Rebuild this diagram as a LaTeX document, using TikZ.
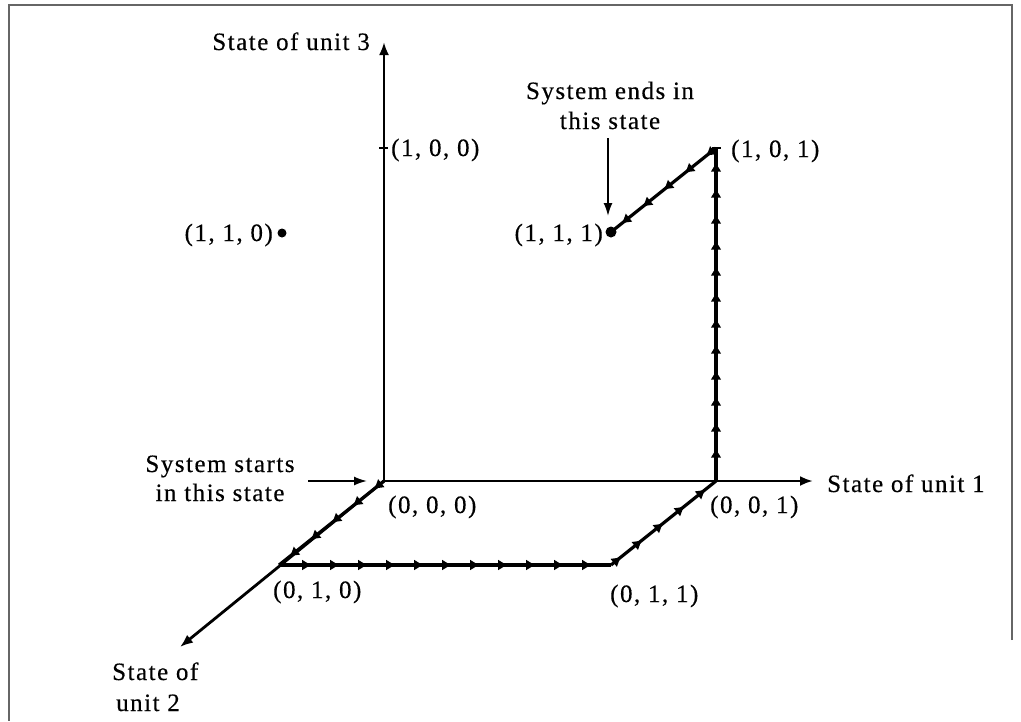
\documentclass[tikz,border=0pt]{standalone}
\usepackage{fontspec}
\setmainfont{Liberation Serif}[LetterSpace=6,FakeBold=0.4]
\usetikzlibrary{arrows.meta,decorations.markings}
\begin{document}
\begin{tikzpicture}[x=1pt,y=-1pt,
  lbl/.style={inner sep=0pt, font=\fontsize{25}{30}\selectfont},
  axis/.style={line width=2.8pt, -{Latex[length=13pt,width=10pt]}},
  ptr/.style={line width=1.8pt, -{Latex[length=13pt,width=9pt]}},
  flow/.style={line width=3.2pt, postaction={decorate},
    decoration={markings, mark=between positions 0.1 and 0.97 step #1 with {\arrow{Latex[length=10pt,width=11pt]}}}},
  frame/.style={line width=1.2pt, black!60}]
\useasboundingbox (0,0) rectangle (1021,721);
\draw[frame] (1012,640) -- (1012,5) -- (9,5) -- (9,721);
% points
\coordinate (o) at (384,481);
\coordinate (p100) at (384,148);
\coordinate (p001) at (716,481);
\coordinate (p010) at (279,565);
\coordinate (p011) at (611,565);
\coordinate (p101) at (716,148);
\coordinate (p111) at (611,232);
\coordinate (p110) at (282,233);
\coordinate (t3) at (384,42);
\coordinate (t1) at (813,481);
\coordinate (t2) at (180,647);
% axes
\draw[axis] (o) -- (t3);
\draw[axis] (o) -- (t1);
\draw[axis] (o) -- (t2);
% trajectory
\draw[flow=27pt] (o) -- (p010);
\draw[flow=28pt] (p010) -- (p011);
\draw[flow=27pt] (p011) -- (p001);
\draw[flow=26pt] (p001) -- (p101);
\draw[flow=27pt] (p101) -- (p111);
% dots and ticks
\fill (p111) circle (5.5);
\fill (p110) circle (4.5);
\draw[line width=2.4pt] ([xshift=-5pt]p100) -- ([xshift=4pt]p100);
\draw[line width=2.4pt] ([xshift=-4pt]p101) -- ([xshift=5pt]p101);
% pointer arrows
\coordinate (s0) at (308,481);
\coordinate (s1) at (367,481);
\draw[ptr] (s0) -- (s1);
\coordinate (e0) at (608,138);
\coordinate (e1) at (608,216);
\draw[ptr] (e0) -- (e1);
% labels
\node[lbl, anchor=base east] (l3) at (370,50) {State of unit 3};
\node[lbl, anchor=base west] (l100) at (391,156) {(1, 0, 0)};
\node[lbl, anchor=base] (end1) at (610,99) {System ends in};
\node[lbl, anchor=base] (end2) at (610,129) {this state};
\node[lbl, anchor=base west] (l101) at (731,157) {(1, 0, 1)};
\node[lbl, anchor=base east] (l111) at (603,241) {(1, 1, 1)};
\node[lbl, anchor=base east] (l110) at (273,241) {(1, 1, 0)};
\node[lbl, anchor=base] (st1) at (220,472) {System starts};
\node[lbl, anchor=base] (st2) at (220,501) {in this state};
\node[lbl, anchor=base west] (l000) at (388,513) {(0, 0, 0)};
\node[lbl, anchor=base west] (l1) at (827,492) {State of unit 1};
\node[lbl, anchor=base west] (l001) at (710,513) {(0, 0, 1)};
\node[lbl, anchor=base west] (l010) at (273,598) {(0, 1, 0)};
\node[lbl, anchor=base west] (l011) at (610,602) {(0, 1, 1)};
\node[lbl, anchor=base west] (l2a) at (112,680) {State of};
\node[lbl, anchor=base west] (l2b) at (116,711) {unit 2};
\end{tikzpicture}
\end{document}
